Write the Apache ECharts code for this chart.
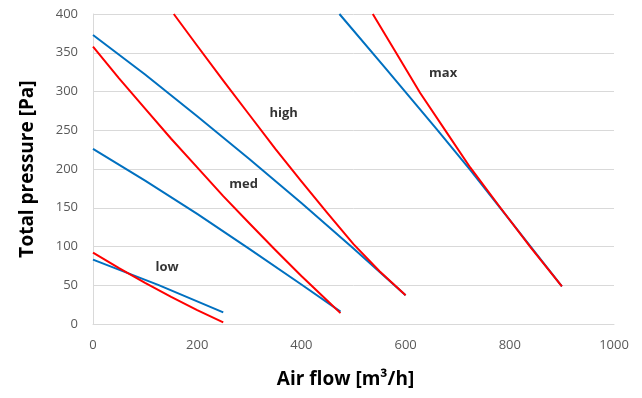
<!DOCTYPE html>
<html>
<head>
<meta charset="utf-8">
<script src="https://cdn.jsdelivr.net/npm/echarts@6/dist/echarts.min.js"></script>
<style>
html,body{margin:0;padding:0;background:#fff;}
#chart{width:642px;height:398px;}
</style>
</head>
<body>
<div id="chart"></div>
<script>
// Axis ticks
const xTicks = { min: 0, max: 1000, step: 200 };
const yTicks = { min: 0, max: 400, step: 50 };

// Blue curves [air flow, pressure]
const blueLow  = [[0,83],[125,50.5],[250,15]];
const blueMed  = [[0,226],[100,185],[200,142],[300,97],[400,51],[475,16]];
const blueHigh = [[0,373],[100,322],[200,268],[300,213],[400,156],[500,97.5],[600,37]];
const blueMax  = [[473,400],[560,331],[660,251],[724,199],[800,134],[900,48.5]];

// Red curves
const redLow  = [[0,92],[50,72],[100,53],[150,35],[200,18],[250,2]];
const redMed  = [[0,358],[50,317],[100,278],[150,239],[200,202],[250,165],[300,130],[350,95.5],[400,62],[450,30],[475,14]];
const redHigh = [[155,400],[200,359],[250,314],[300,270],[350,226],[400,184],[450,143],[500,103],[550,68],[600,37]];
const redMax  = [[537,400],[580,352],[628,298],[680,246],[724,202],[782,150],[840,99],[900,48.5]];

// Curve labels [x, y, text]
const curveLabels = [[142,73.5,'low'],[289,180,'med'],[366,272,'high'],[672,323,'max']];

const BLUE = '#0070c0', RED = '#ff0000';
const FONT = 'Open Sans';

function lineSeries(data, color) {
  return {
    type: 'line', data: data, showSymbol: false, symbol: 'none',
    smooth: false, lineStyle: { color: color, width: 2, join: 'round' }, clip: true, z: 3
  };
}

const chart = echarts.init(document.getElementById('chart'));
chart.setOption({
  animation: false,
  backgroundColor: '#fff',
  grid: { left: 93, right: 28, top: 14, bottom: 74 },
  xAxis: {
    type: 'value', min: xTicks.min, max: xTicks.max, interval: xTicks.step,
    name: 'Air flow [m³/h]', nameLocation: 'middle', nameGap: 46,
    nameTextStyle: { fontFamily: FONT, fontWeight: 'bold', fontSize: 19, color: '#000', padding: [0, 16, 0, 0] },
    axisLine: { show: true, lineStyle: { color: '#d9d9d9', width: 1 } },
    axisTick: { show: false },
    axisLabel: { fontFamily: FONT, fontSize: 13, color: '#595959', margin: 15, formatter: v => String(v) },
    splitLine: { show: false }
  },
  yAxis: {
    type: 'value', min: yTicks.min, max: yTicks.max, interval: yTicks.step,
    name: 'Total pressure [Pa]', nameLocation: 'middle', nameGap: 56,
    nameTextStyle: { fontFamily: FONT, fontWeight: 'bold', fontSize: 19, color: '#000' },
    axisLine: { show: true, lineStyle: { color: '#d9d9d9', width: 1 } },
    axisTick: { show: false },
    axisLabel: { fontFamily: FONT, fontSize: 13, color: '#595959', margin: 15 },
    splitLine: { show: true, lineStyle: { color: '#d9d9d9', width: 1 } }
  },
  series: [
    lineSeries(blueLow, BLUE), lineSeries(blueMed, BLUE), lineSeries(blueHigh, BLUE), lineSeries(blueMax, BLUE),
    lineSeries(redLow, RED), lineSeries(redMed, RED), lineSeries(redHigh, RED), lineSeries(redMax, RED),
    {
      type: 'scatter', data: curveLabels.map(d => [d[0], d[1], d[2]]),
      symbolSize: 1, itemStyle: { color: 'rgba(0,0,0,0)' }, z: 5,
      label: {
        show: true, position: 'inside', formatter: p => p.value[2],
        fontFamily: FONT, fontWeight: 'bold', fontSize: 13, color: '#000'
      }
    }
  ]
});
</script>
</body>
</html>
